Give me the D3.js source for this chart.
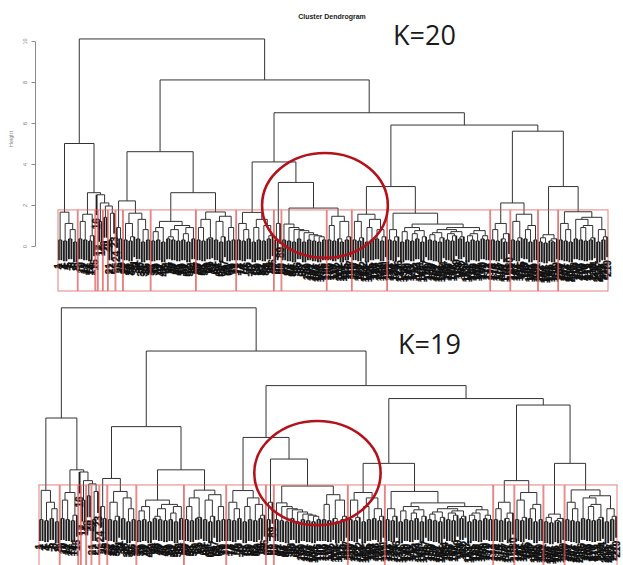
<!DOCTYPE html>
<html><head><meta charset="utf-8">
<script src="https://cdn.jsdelivr.net/npm/d3@7"></script>
<style>body{margin:0;background:#fff}svg{display:block}</style>
</head><body>
<svg id="chart" width="623" height="565"></svg>
<script>
// ---------- DATA ----------
// Merge height between each pair of neighbouring leaves (dendrogram in leaf order),
// given group by group (the 20 clusters of the K=20 cut) ...
const g01 = [0.3, 1.65, 0.25, 1.1, 0.35, 0.8, 0.2];
const g02 = [0.35, 1.2, 0.3, 1.55, 0.25, 0.5];
const g03 = [];
const g04 = [1.2];
const g05 = [1.4];
const g06 = [0.3, 1.6];
const g07 = [0.9, 0.35];
const g08 = [0.3, 1.1, 0.25, 0.45, 1.6, 0.35, 1.3, 0.2, 0.8, 0.3];
const g09 = [0.25, 0.7, 0.3, 0.9, 0.2, 1.2, 0.35, 0.45, 0.3, 0.8, 0.25, 1.0, 0.3, 0.6, 0.2, 0.9, 0.35];
const g10 = [0.3, 0.9, 0.25, 1.3, 0.35, 0.4, 1.66, 0.3, 1.2, 0.2, 0.45, 1.45, 0.25, 0.9, 0.3];
const g11 = [0.3, 1.1, 0.25, 0.8, 0.35, 1.64, 0.2, 0.9, 0.3, 1.3, 0.25, 1.0, 0.35, 0.5];
const g12 = [0.3, 1.1];
const g13 = [0.3, 1.07, 0.25, 0.9, 0.2, 0.8, 0.35, 0.75, 0.2, 0.65, 0.3, 0.55, 0.25, 0.5, 0.2, 0.45, 0.3];
const g14 = [0.3, 1.0, 0.25, 1.45, 0.35, 0.2, 1.2, 0.3, 0.45];
const g15 = [0.3, 1.2, 0.25, 0.4, 1.55, 0.2, 0.9, 0.3, 1.3, 0.35, 0.8, 0.25, 0.45];
const g16 = [0.3, 0.8, 0.25, 0.45, 1.6, 0.2, 0.7, 0.3, 0.9, 0.25, 0.6, 0.35, 0.75, 0.2, 0.45, 1.07, 0.3, 0.55, 0.25, 0.65,
             0.2, 0.4, 0.8, 0.3, 0.6, 0.25, 0.5, 0.7, 0.35, 0.45, 0.9, 0.2, 0.5, 0.3, 0.6, 0.25, 0.75, 0.35, 0.5, 0.3];
const g17 = [0.3, 0.8, 0.25, 1.1, 0.35, 0.2, 0.6];
const g18 = [0.3, 1.2, 0.25, 0.4, 1.55, 0.35, 0.8, 0.2, 1.0, 0.3];
const g19 = [0.2, 0.4, 0.15, 0.55, 0.25, 0.2, 0.35];
const g20 = [0.3, 1.1, 0.25, 0.8, 0.2, 1.67, 0.35, 1.3, 0.3, 0.9, 0.25, 1.0, 0.3, 0.4, 1.4, 0.2, 0.8, 0.3, 0.45];
// ... and the merge heights between consecutive groups
const betweenGroups = [5.0, 2.6, 2.5, 2.1, 1.95, 10.1, 2.2, 4.6, 2.6, 8.1, 4.1, 3.1, 1.85, 6.5, 2.9, 5.9, 2.1, 5.6, 2.9];

const panelK = [20, 19];
const panelLabels = ["K=20", "K=19"];
const yTicks = [0, 2, 4, 6, 8, 10];
const titleText = "Cluster Dendrogram";
const yAxisTitle = "Height";
// highlighted region (leaf position, height, radius in leaves, radius in height)
const highlightCx = [106.8, 106.0];
const highlightCy = [1.98, 2.45];
const highlightRx = [25.0, 23.9];
const highlightRy = [2.56, 2.41];

// ---------- BUILD TREE ----------
const groups = [g01,g02,g03,g04,g05,g06,g07,g08,g09,g10,g11,g12,g13,g14,g15,g16,g17,g18,g19,g20];
const gaps = [];
groups.forEach((g, i) => { gaps.push(...g); if (i < betweenGroups.length) gaps.push(betweenGroups[i]); });
const N = gaps.length + 1;

function build(lo, hi) {
  if (lo === hi) return { leaf: true, p: lo + 1, lo, hi };
  let j = lo;
  for (let t = lo; t < hi; t++) if (gaps[t] > gaps[j]) j = t;
  const left = build(lo, j), right = build(j + 1, hi);
  return { leaf: false, h: gaps[j], left, right, p: (left.p + right.p) / 2, lo, hi };
}
const root = build(0, N - 1);
const heightsDesc = gaps.slice().sort((a, b) => b - a);
const hang = 0.1 * (d3.max(gaps) - d3.min(gaps));

const nodes = [];
(function walk(n) { if (!n.leaf) { nodes.push(n); walk(n.left); walk(n.right); } })(root);
const leaves = [];
(function walkL(n, parentH) { if (n.leaf) leaves.push({ p: n.p, ph: parentH }); else { walkL(n.left, n.h); walkL(n.right, n.h); } })(root, root.h);

function clustersAt(k) {
  const cut = (heightsDesc[k - 2] + heightsDesc[k - 1]) / 2;
  const out = [];
  (function c(n) { if (!n.leaf && n.h > cut) { c(n.left); c(n.right); } else out.push([n.lo, n.hi]); })(root);
  return { cut, out };
}

// ---------- DRAW ----------
const svg = d3.select("#chart");
const layouts = [
  { x0: 58, x1: 608, y0: 246, unit: 20.5, rectBottom: 291, axis: true },
  { x0: 39, x1: 617, y0: 526, unit: 21.6, rectBottom: 575, axis: false }
];
const kTextPos = [[393, 45], [398, 354]];

layouts.forEach((L, pi) => {
  const x = d3.scaleLinear().domain([0.66, N + 0.33]).range([L.x0, L.x1]);
  const y = d3.scaleLinear().domain([0, 10]).range([L.y0, L.y0 - 10 * L.unit]);
  const g = svg.append("g");

  // dendrogram links between merges
  g.append("g").attr("fill", "none").attr("stroke", "#333").attr("stroke-width", 1)
    .selectAll("path").data(nodes).join("path")
    .attr("d", n => {
      const yl = n.left.leaf ? y(n.h) : y(n.left.h);
      const yr = n.right.leaf ? y(n.h) : y(n.right.h);
      return `M${x(n.left.p)},${yl}V${y(n.h)}H${x(n.right.p)}V${yr}`;
    });

  // hanging leaf stems
  g.append("g").attr("stroke", "#1e1e1e").attr("stroke-width", 1.9)
    .selectAll("line").data(leaves).join("line")
    .attr("x1", d => x(d.p)).attr("x2", d => x(d.p))
    .attr("y1", d => y(d.ph)).attr("y2", d => y(d.ph - hang));

  // leaf labels (row numbers, as hclust default)
  g.append("g").attr("font-family", "Liberation Sans, Arial, sans-serif").attr("font-size", 10)
    .attr("font-weight", "bold").attr("fill", "#111").attr("stroke", "#111").attr("stroke-width", 0.3)
    .selectAll("text").data(leaves).join("text")
    .attr("transform", d => `translate(${x(d.p)},${y(d.ph - hang) + 3}) rotate(-90)`)
    .attr("text-anchor", "end").attr("dy", "0.35em")
    .text((d, i) => String(i + 1));

  // cluster rectangles
  const { cut, out } = clustersAt(panelK[pi]);
  const m = [0]; out.forEach(c => m.push(c[1] + 1));
  g.append("g").attr("fill", "none").attr("stroke", "#de5555").attr("stroke-opacity", 0.75).attr("stroke-width", 1)
    .selectAll("rect").data(out).join("rect")
    .attr("x", (c, i) => x(m[i] + 0.66))
    .attr("width", (c, i) => x(m[i + 1] + 0.33) - x(m[i] + 0.66))
    .attr("y", y(cut))
    .attr("height", L.rectBottom - y(cut));

  // highlight ellipse
  g.append("ellipse")
    .attr("cx", x(highlightCx[pi])).attr("cy", y(highlightCy[pi]))
    .attr("rx", x(highlightCx[pi] + highlightRx[pi]) - x(highlightCx[pi]))
    .attr("ry", y(0) - y(highlightRy[pi]))
    .attr("fill", "none").attr("stroke", "#b3121a").attr("stroke-width", 2.6);

  // K label
  g.append("text").attr("x", kTextPos[pi][0]).attr("y", kTextPos[pi][1])
    .attr("font-family", "Open Sans, sans-serif").attr("font-size", 27).attr("fill", "#1a1a1a")
    .text(panelLabels[pi]);

  if (L.axis) {
    const ax = g.append("g").attr("transform", `translate(35,0)`)
      .call(d3.axisLeft(y).tickValues(yTicks).tickSize(3.5).tickSizeOuter(0));
    ax.select(".domain").attr("stroke", "#8a8a8a");
    ax.selectAll(".tick line").attr("stroke", "#8a8a8a");
    ax.selectAll(".tick text").attr("fill", "#777").attr("font-size", 5.5)
      .attr("font-family", "Liberation Sans, Arial, sans-serif")
      .attr("x", 0).attr("dy", 0).attr("text-anchor", "middle")
      .attr("transform", "translate(-8,0) rotate(-90)");
    g.append("text").attr("transform", "translate(13,139) rotate(-90)")
      .attr("text-anchor", "middle").attr("font-size", 5.5).attr("fill", "#888")
      .attr("font-family", "Liberation Sans, Arial, sans-serif").text(yAxisTitle);
    g.append("text").attr("x", 332).attr("y", 19).attr("text-anchor", "middle")
      .attr("font-family", "Liberation Sans, Arial, sans-serif").attr("font-weight", "bold")
      .attr("font-size", 7).attr("fill", "#222").text(titleText);
  }
});
</script>
</body></html>
